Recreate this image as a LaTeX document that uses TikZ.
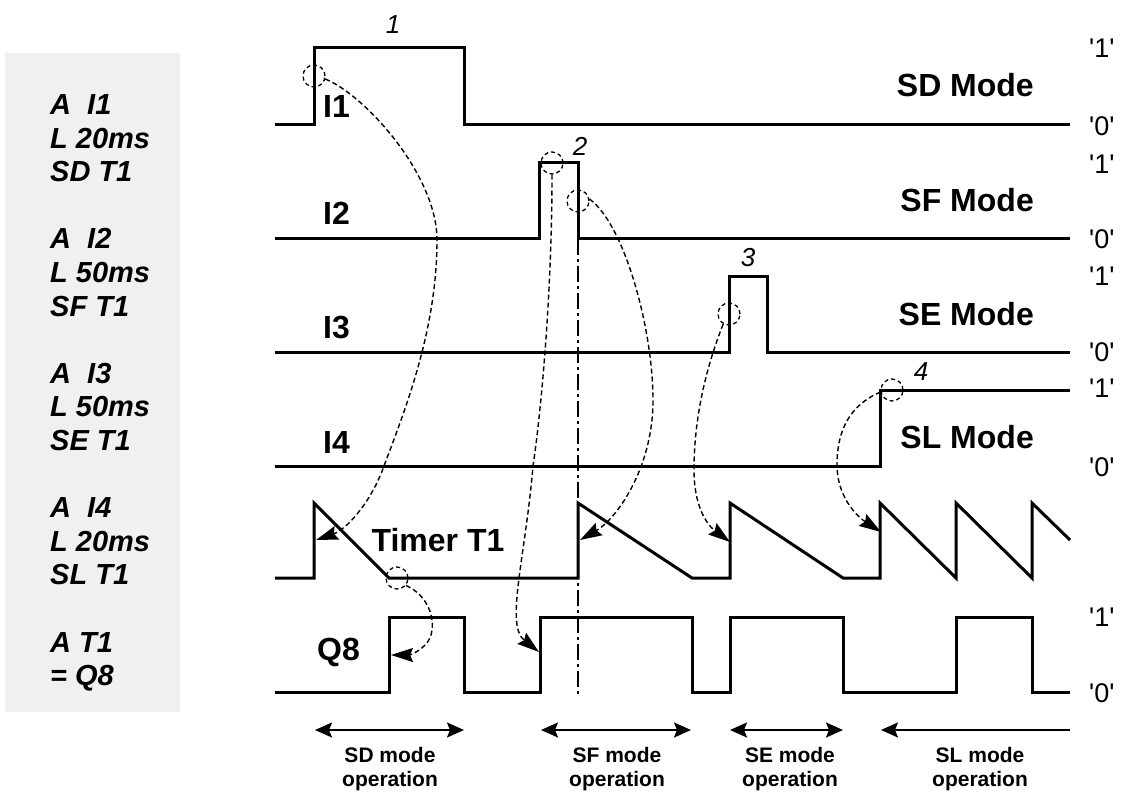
\documentclass[tikz,border=0pt]{standalone}
\usepackage{fontspec}
\setmainfont{Liberation Sans}
\usetikzlibrary{arrows.meta}
\definecolor{boxgray}{HTML}{F0F0F0}
\newcommand{\myq}{\textquotesingle}
\begin{document}
\begin{tikzpicture}[x=1pt,y=-1pt,
 sig/.style={line width=3pt},
 conn/.style={line width=1.4pt, dash pattern=on 5pt off 3pt, -{Stealth[length=22pt,width=14pt,inset=3pt]}},
 ring/.style={circle, draw, line width=1.3pt, dash pattern=on 4pt off 3pt, minimum size=22pt, inner sep=0pt},
 bigl/.style={font=\fontsize{32}{38}\selectfont\bfseries, inner sep=0pt},
 lvl/.style={font=\fontsize{27}{32}\selectfont, inner sep=0pt, anchor=west},
 numl/.style={font=\fontsize{26}{30}\selectfont\itshape, inner sep=0pt},
 codel/.style={font=\fontsize{29}{34}\selectfont\bfseries\itshape, inner sep=0pt, anchor=base west},
 oplab/.style={font=\fontsize{21}{25}\selectfont\bfseries, inner sep=0pt, anchor=base},
 oparrow/.style={line width=2pt, {Stealth[length=17pt,width=15pt,inset=3pt]}-{Stealth[length=17pt,width=15pt,inset=3pt]}},
 oparrowL/.style={line width=2pt, {Stealth[length=17pt,width=15pt,inset=3pt]}-},
 dashdot/.style={line width=1.8pt, dash pattern=on 16pt off 4pt on 3pt off 4pt},
 ]
\useasboundingbox (0,0) rectangle (1126,794);

% left code box
\fill[boxgray] (5,53) rectangle (180,712);
\foreach \yy/\tt [count=\i] in {0/A\ \ I1, 1/L 20ms, 2/SD T1,
  4/A\ \ I2, 5/L 50ms, 6/SF T1,
  8/A\ \ I3, 9/L 50ms, 10/SE T1,
  12/A\ \ I4, 13/L 20ms, 14/SL T1,
  16/A T1, 17/= Q8}
  \node[codel] (code\i) at (50,{114.5+33.6*\yy}) {\tt};

% signals
\draw[sig] (275,125) -- (314,125) -- (314,48) -- (464,48) -- (464,125) -- (1070,125);
\draw[sig] (275,239) -- (539,239) -- (539,163) -- (578,163) -- (578,239) -- (1070,239);
\draw[sig] (275,352) -- (729,352) -- (729,276) -- (767,276) -- (767,352) -- (1070,352);
\draw[sig] (275,466) -- (880,466) -- (880,390) -- (1070,390);
\draw[sig] (275,578) -- (314,578) -- (314,503) -- (389,578) -- (578,578) -- (578,503)
  -- (692,578) -- (730,578) -- (730,503) -- (843,578) -- (880,578) -- (880,503)
  -- (956,578) -- (956,503) -- (1032,578) -- (1032,503) -- (1070,540);
\draw[sig] (275,692) -- (389,692) -- (389,617) -- (464,617) -- (464,692) -- (540,692)
  -- (540,617) -- (692,617) -- (692,692) -- (730,692) -- (730,617) -- (843,617)
  -- (843,692) -- (956,692) -- (956,617) -- (1032,617) -- (1032,692) -- (1070,692);

% dash-dot marker
\coordinate (ddtop) at (578,239);
\coordinate (ddbot) at (578,697);
\draw[dashdot] (ddtop) -- (ddbot);

% signal labels
\node[bigl, anchor=west] (lI1) at (323,106) {I1};
\node[bigl, anchor=west] (lI2) at (323,213) {I2};
\node[bigl, anchor=west] (lI3) at (323,328) {I3};
\node[bigl, anchor=west] (lI4) at (323,442) {I4};
\node[bigl, anchor=west] (lQ8) at (317,652) {Q8};
\node[bigl] (lT1) at (438,540) {Timer T1};

\node[bigl, anchor=east] (mSD) at (1034,85) {SD Mode};
\node[bigl, anchor=east] (mSF) at (1034,200) {SF Mode};
\node[bigl, anchor=east] (mSE) at (1034,314) {SE Mode};
\node[bigl, anchor=east] (mSL) at (1034,437) {SL Mode};

\node[numl] (n1) at (393,25) {1};
\node[numl] (n2) at (580,146) {2};
\node[numl] (n3) at (748,258) {3};
\node[numl] (n4) at (921,372) {4};

% level labels
\node[lvl] (v1a) at (1089,48) {\myq1\myq};
\node[lvl] (v0a) at (1089,126) {\myq0\myq};
\node[lvl] (v1b) at (1089,164) {\myq1\myq};
\node[lvl] (v0b) at (1089,239) {\myq0\myq};
\node[lvl] (v1c) at (1089,276) {\myq1\myq};
\node[lvl] (v0c) at (1089,352) {\myq0\myq};
\node[lvl] (v1d) at (1089,388) {\myq1\myq};
\node[lvl] (v0d) at (1089,467) {\myq0\myq};
\node[lvl] (v1e) at (1089,617) {\myq1\myq};
\node[lvl] (v0e) at (1089,693) {\myq0\myq};

% rings
\node[ring] (c1) at (314,76) {};
\node[ring] (c2) at (552,163) {};
\node[ring] (c3) at (578,201) {};
\node[ring] (c4) at (729,314) {};
\node[ring] (c5) at (892,390) {};
\node[ring] (c6) at (397,578) {};

% arrow targets
\coordinate (t1) at (316,540);
\coordinate (q1) at (539,652);
\coordinate (t2) at (580,540);
\coordinate (t3) at (730,542);
\coordinate (t4) at (881,532);
\coordinate (q0) at (391,655);

% connectors
\draw[conn] (c1.-15) .. controls (365,95) and (437,175) .. (437,240)
  .. controls (437,330) and (405,410) .. (384,466)
  .. controls (370,505) and (345,530) .. (t1);
\draw[conn] (c2.south) .. controls (552,300) and (540,420) .. (533,466)
  .. controls (525,560) and (505,625) .. (q1);
\draw[conn] (c3.10) .. controls (625,225) and (653,330) .. (653,400)
  .. controls (653,470) and (615,520) .. (t2);
\draw[conn] (c4.240) .. controls (705,370) and (694,420) .. (694,470)
  .. controls (694,505) and (706,524) .. (t3);
\draw[conn] (c5.190) .. controls (850,405) and (837,430) .. (837,465)
  .. controls (837,495) and (855,515) .. (t4);
\draw[conn] (c6.-40) .. controls (428,595) and (437,620) .. (430,638)
  .. controls (424,650) and (410,655) .. (q0);

% operation spans
\coordinate (sdL) at (315,730); \coordinate (sdR) at (464,730);
\coordinate (sfL) at (541,730); \coordinate (sfR) at (691,730);
\coordinate (seL) at (730,730); \coordinate (seR) at (843,730);
\coordinate (slL) at (881,730); \coordinate (slR) at (1070,730);
\draw[oparrow] (sdL) -- (sdR);
\draw[oparrow] (sfL) -- (sfR);
\draw[oparrow] (seL) -- (seR);
\draw[oparrowL] (slL) -- (slR);

\node[oplab] (o1a) at (390,762) {SD mode};
\node[oplab] (o1b) at (390,786) {operation};
\node[oplab] (o2a) at (617,762) {SF mode};
\node[oplab] (o2b) at (617,786) {operation};
\node[oplab] (o3a) at (790,762) {SE mode};
\node[oplab] (o3b) at (790,786) {operation};
\node[oplab] (o4a) at (980,762) {SL mode};
\node[oplab] (o4b) at (980,786) {operation};
\end{tikzpicture}
\end{document}
